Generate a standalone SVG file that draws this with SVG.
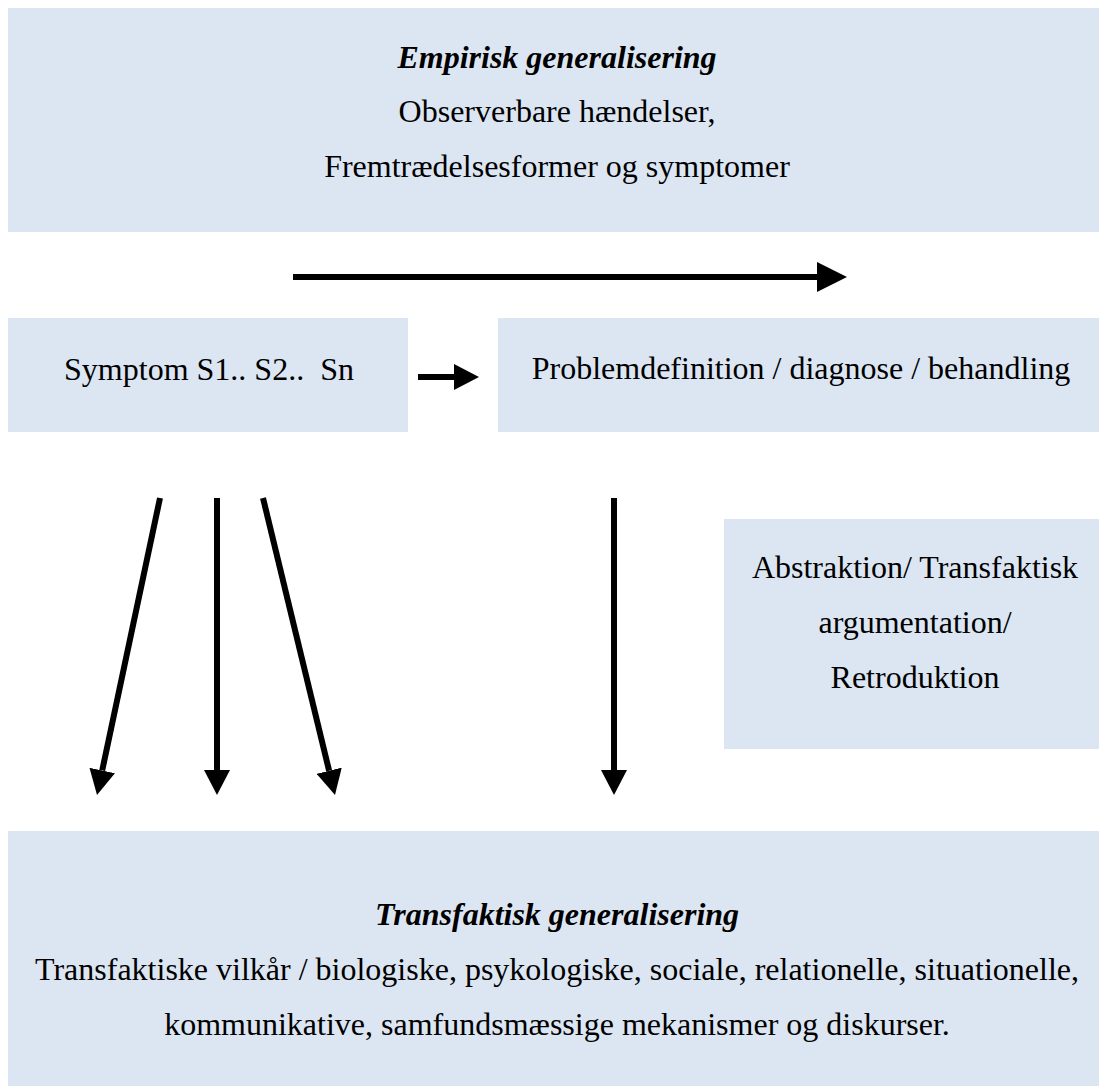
<svg xmlns="http://www.w3.org/2000/svg" width="1099" height="1086" viewBox="0 0 1099 1086">
  <style>
    .box { fill: #DCE6F2; stroke: none; }
    .t { font-family: "Liberation Serif", "Times New Roman", serif; font-size: 32px; fill: #000; text-anchor: middle; white-space: pre; }
    .h { font-weight: bold; font-style: italic; }
    .arrow { stroke: #000; stroke-width: 6; fill: none; }
  </style>
  <defs>
    <marker id="head" markerUnits="userSpaceOnUse" viewBox="0 -13 25 26" refX="0" refY="0" markerWidth="25" markerHeight="26" orient="auto">
      <path d="M0,-13 L25,0 L0,13 Z" fill="#000"/>
    </marker>
    <marker id="headBig" markerUnits="userSpaceOnUse" viewBox="0 -15 30 30" refX="0" refY="0" markerWidth="30" markerHeight="30" orient="auto">
      <path d="M0,-15 L30,0 L0,15 Z" fill="#000"/>
    </marker>
  </defs>

  <g id="empirisk">
    <rect class="box" x="8" y="8" width="1100" height="224"/>
    <text class="t h" x="557" y="68">Empirisk generalisering</text>
    <text class="t" x="557" y="122">Observerbare hændelser,</text>
    <text class="t" x="557" y="177">Fremtrædelsesformer og symptomer</text>
  </g>

  <g id="symptom">
    <rect class="box" x="8" y="318" width="400" height="114"/>
    <text class="t" x="209" y="380" xml:space="preserve">Symptom S1.. S2..  Sn</text>
  </g>

  <g id="problem">
    <rect class="box" x="498" y="318" width="610" height="114"/>
    <text class="t" x="801" y="379">Problemdefinition / diagnose / behandling</text>
  </g>

  <g id="abstraktion">
    <rect class="box" x="724" y="519" width="384" height="230"/>
    <text class="t" x="915" y="578">Abstraktion/ Transfaktisk</text>
    <text class="t" x="915" y="633">argumentation/</text>
    <text class="t" x="915" y="688">Retroduktion</text>
  </g>

  <g id="transfaktisk">
    <rect class="box" x="8" y="831" width="1100" height="260"/>
    <text class="t h" x="557" y="925">Transfaktisk generalisering</text>
    <text class="t" x="557" y="980">Transfaktiske vilkår / biologiske, psykologiske, sociale, relationelle, situationelle,</text>
    <text class="t" x="557" y="1035">kommunikative, samfundsmæssige mekanismer og diskurser.</text>
  </g>

  <g id="connectors">
    <line class="arrow" x1="293" y1="277" x2="817" y2="277" marker-end="url(#headBig)"/>
    <line class="arrow" x1="418" y1="377" x2="454" y2="377" marker-end="url(#head)"/>
    <line class="arrow" x1="160" y1="498" x2="102.2" y2="770.5" marker-end="url(#head)"/>
    <line class="arrow" x1="217" y1="498" x2="217" y2="770" marker-end="url(#head)"/>
    <line class="arrow" x1="263" y1="498" x2="329.1" y2="770.7" marker-end="url(#head)"/>
    <line class="arrow" x1="614" y1="498" x2="614" y2="770" marker-end="url(#head)"/>
  </g>
</svg>
